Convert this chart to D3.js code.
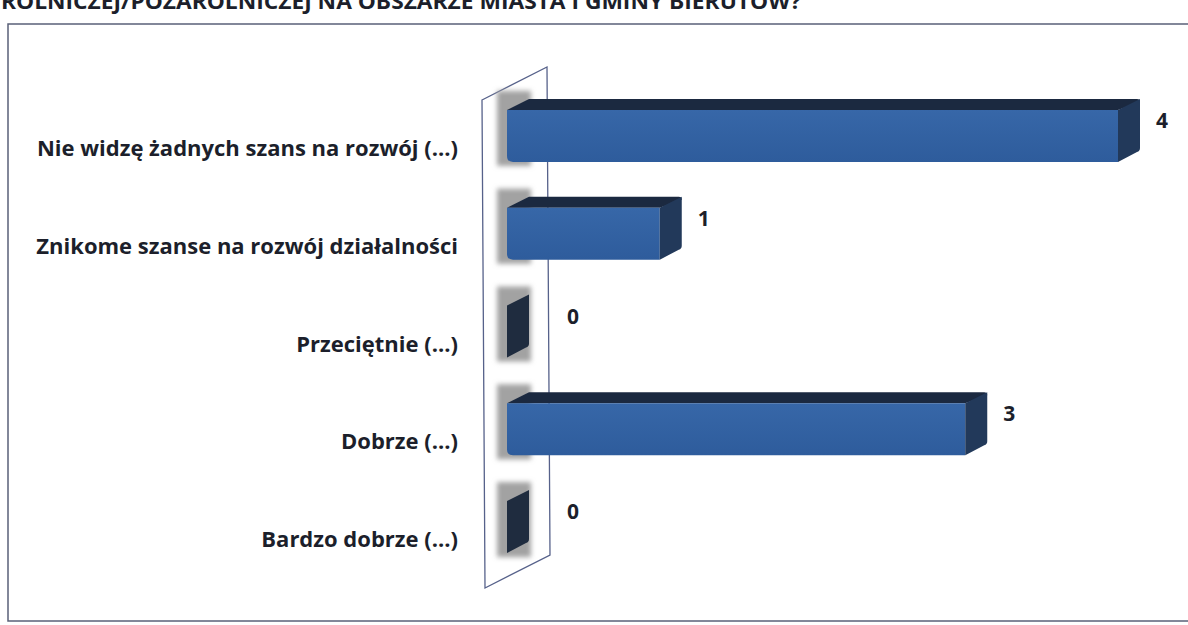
<!DOCTYPE html>
<html lang="pl">
<head>
  <meta charset="UTF-8">
  <title>Szanse na rozwój działalności</title>
  <script src="https://cdn.jsdelivr.net/npm/d3@7"></script>
  <style>
    body { margin: 0; background: #fff; }
    svg { display: block; font-family: "Open Sans", Lato, sans-serif; }
    .cat { font-size: 22px; font-weight: 700; fill: #1c1f2b; }
    .val { font-size: 21px; font-weight: 700; fill: #1c1f2b; }
  </style>
</head>
<body>
  <svg id="chart" width="1188" height="625"></svg>
  <script>
    // data
    const titleText = 'ROLNICZEJ/POZAROLNICZEJ NA OBSZARZE MIASTA I GMINY BIERUTÓW?';
    const categories = [
      'Nie widzę żadnych szans na rozwój (...)',
      'Znikome szanse na rozwój działalności',
      'Przeciętnie (...)',
      'Dobrze (...)',
      'Bardzo dobrze (...)'
    ];
    const values = [4, 1, 0, 3, 0];

    const svg = d3.select('#chart');
    const defs = svg.append('defs');

    defs.append('filter').attr('id', 'soft')
      .attr('x', '-50%').attr('y', '-50%').attr('width', '200%').attr('height', '200%')
      .append('feGaussianBlur').attr('stdDeviation', 2.5);

    const grad = defs.append('linearGradient').attr('id', 'front')
      .attr('x1', 0).attr('y1', 0).attr('x2', 0).attr('y2', 1);
    grad.append('stop').attr('offset', '0%').attr('stop-color', '#3767a8');
    grad.append('stop').attr('offset', '100%').attr('stop-color', '#2e5c9c');

    // title of the page above, cut by the crop as in the scan
    svg.append('text')
      .attr('x', 1).attr('y', 9)
      .attr('font-size', 21).attr('font-weight', 700).attr('fill', '#1c1f2b')
      .attr('textLength', 800).attr('lengthAdjust', 'spacingAndGlyphs')
      .text(titleText);

    // chart frame
    svg.append('rect')
      .attr('x', 8).attr('y', 24).attr('width', 1200).attr('height', 597)
      .attr('fill', 'none').attr('stroke', '#5a6078').attr('stroke-width', 1.5);

    const x = d3.scaleLinear().domain([0, 4]).range([507, 1118]);
    const y = d3.scaleBand().domain(categories)
      .range([87, 576]).paddingInner(0.468).paddingOuter(0.234);

    const dx = 22, dy = -11;
    const x0 = x(0);

    // back wall
    const wTop = y.range()[0] + 13, wBot = y.range()[1] + 12;
    const wl = x0 - 25, wdx = 65, wdy = -33;
    svg.append('path')
      .attr('d', `M${wl},${wTop} L${wl + wdx},${wTop + wdy} L${wl + wdx + 3},${wBot + wdy} L${wl + 3},${wBot} Z`)
      .attr('fill', '#fff').attr('stroke', '#56618a').attr('stroke-width', 1.3);

    const g = svg.append('g');
    const rows = categories.map((c, i) => ({ c, v: values[i] }));

    // shadows on the wall
    g.selectAll('rect.shadow').data(rows).enter().append('rect')
      .attr('class', 'shadow')
      .attr('x', x0 - 10).attr('width', dx + 12)
      .attr('y', d => y(d.c) + dy - 8)
      .attr('height', y.bandwidth() - dy + 12)
      .attr('fill', '#a2a2a2').attr('filter', 'url(#soft)');

    const bars = g.selectAll('g.bar').data(rows).enter().append('g').attr('class', 'bar');

    // top face
    bars.filter(d => d.v > 0).append('path')
      .attr('d', d => {
        const t = y(d.c), xv = x(d.v);
        return `M${x0},${t} L${x0 + dx},${t + dy} L${xv + dx - 3},${t + dy} Q${xv + dx},${t + dy} ${xv + dx},${t + dy + 3} L${xv},${t} Z`;
      })
      .attr('fill', '#1b2940');

    // front face
    bars.filter(d => d.v > 0).append('path')
      .attr('d', d => {
        const t = y(d.c), b = t + y.bandwidth(), xv = x(d.v), r = 6;
        return `M${x0},${t} L${xv},${t} L${xv},${b} L${x0 + r},${b} Q${x0},${b} ${x0},${b - r} Z`;
      })
      .attr('fill', 'url(#front)');

    // end face
    bars.append('path')
      .attr('d', d => {
        const t = y(d.c), b = t + y.bandwidth(), xv = x(d.v);
        return `M${xv},${t} L${xv + dx},${t + dy} L${xv + dx},${b + dy - 3} Q${xv + dx},${b + dy} ${xv + dx - 3},${b + dy + 1} L${xv},${b} Z`;
      })
      .attr('fill', d => d.v > 0 ? '#22395a' : '#1f2c3f');

    // category labels
    svg.selectAll('text.cat').data(rows).enter().append('text')
      .attr('class', 'cat')
      .attr('x', 458)
      .attr('y', d => y(d.c) + y.bandwidth() / 2 + 20)
      .attr('text-anchor', 'end')
      .text(d => d.c);

    // value labels
    svg.selectAll('text.val').data(rows).enter().append('text')
      .attr('class', 'val')
      .attr('x', d => x(d.v) + dx + (d.v > 0 ? 16 : 38))
      .attr('y', d => y(d.c) + y.bandwidth() / 2 - 8)
      .text(d => d.v);
  </script>
</body>
</html>
